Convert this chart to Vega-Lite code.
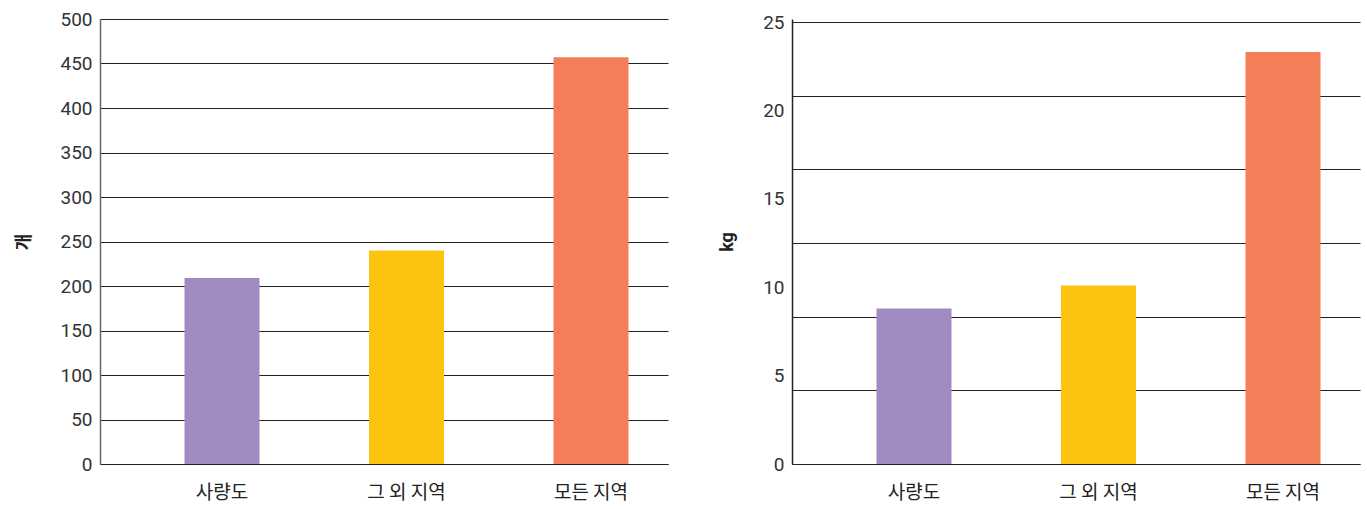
{
 "$schema": "https://vega.github.io/schema/vega-lite/v6.json",
 "background": "white",
 "padding": {"left": 15, "top": 10, "right": 7, "bottom": 5},
 "spacing": 50,
 "config": {"view": {"stroke": null}, "font": "Roboto"},
 "datasets": {
  "count": [
   {"region": "사량도", "value": 209},
   {"region": "그 외 지역", "value": 240},
   {"region": "모든 지역", "value": 457}
  ],
  "weight": [
   {"region": "사량도", "value": 8.8},
   {"region": "그 외 지역", "value": 10.1},
   {"region": "모든 지역", "value": 23.3}
  ]
 },
 "hconcat": [
  {
   "width": 568,
   "height": 445,
   "data": {"name": "count"},
   "mark": {"type": "bar", "width": 75, "xOffset": 22.5},
   "encoding": {
    "x": {
     "field": "region", "type": "nominal", "sort": null,
     "scale": {"paddingInner": 0, "paddingOuter": 0.0393},
     "axis": {"title": null, "ticks": false, "labelOffset": 22.5, "domainColor": "#222", "domainWidth": 1, "labelAngle": 0, "labelFont": "Noto Sans CJK KR", "labelFontSize": 19, "labelColor": "#222", "labelPadding": 19}
    },
    "y": {
     "field": "value", "type": "quantitative",
     "scale": {"domain": [0, 500]},
     "axis": {"title": "개", "titleFont": "Noto Sans CJK KR", "titleFontSize": 18, "titleFontWeight": "bold", "titleColor": "#222", "titlePadding": 26, "values": [0,50,100,150,200,250,300,350,400,450,500], "ticks": false, "labelPadding": 8, "labelFontSize": 19, "labelColor": "#333", "domainColor": "#666", "domainWidth": 1.5, "gridColor": "#222", "gridWidth": 1}
    },
    "color": {"field": "region", "type": "nominal", "scale": {"domain": ["사량도", "그 외 지역", "모든 지역"], "range": ["#A08AC1", "#FCC30F", "#F37E58"]}, "legend": null}
   }
  },
  {
   "width": 568,
   "height": 445,
   "data": {"name": "weight"},
   "mark": {"type": "bar", "width": 75, "xOffset": 22.5},
   "encoding": {
    "x": {
     "field": "region", "type": "nominal", "sort": null,
     "scale": {"paddingInner": 0, "paddingOuter": 0.0393},
     "axis": {"title": null, "ticks": false, "labelOffset": 22.5, "domainColor": "#222", "domainWidth": 1, "labelAngle": 0, "labelFont": "Noto Sans CJK KR", "labelFontSize": 19, "labelColor": "#222", "labelPadding": 19}
    },
    "y": {
     "field": "value", "type": "quantitative",
     "scale": {"domain": [0, 25.17], "nice": false},
     "axis": {"title": "kg", "titleFontSize": 18, "titleFontWeight": "bold", "titleColor": "#222", "titlePadding": 26,
      "values": [0, 4.1667, 5, 8.3333, 10, 12.5, 15, 16.6667, 20, 20.8333, 25],
      "labelExpr": "datum.value % 5 === 0 ? datum.label : ''",
      "ticks": false, "labelPadding": 8, "labelFontSize": 19, "labelColor": "#333", "domainColor": "#222", "domainWidth": 1.5,
      "gridColor": "#222", "gridWidth": 1,
      "gridOpacity": {"condition": {"test": "datum.value % 5 === 0 && datum.value > 0 && datum.value < 25", "value": 0}, "value": 1}}
    },
    "color": {"field": "region", "type": "nominal", "scale": {"domain": ["사량도", "그 외 지역", "모든 지역"], "range": ["#A08AC1", "#FCC30F", "#F37E58"]}, "legend": null}
   }
  }
 ]
}
